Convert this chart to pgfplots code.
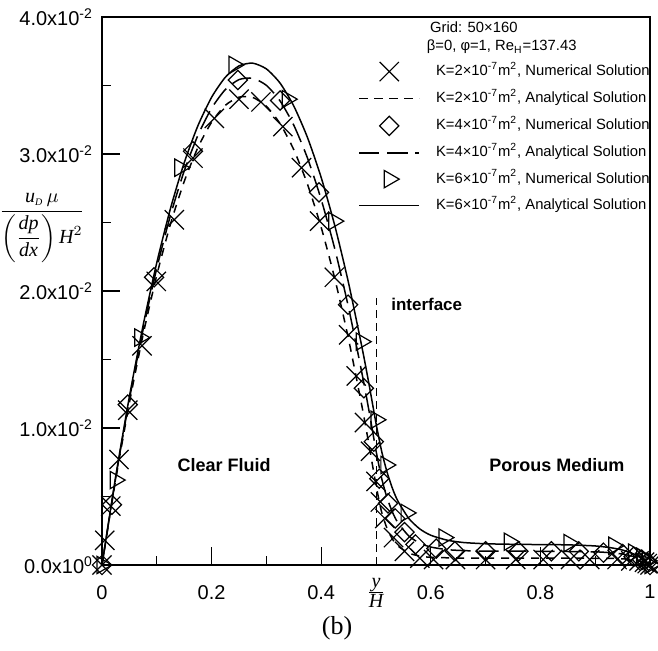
\documentclass[border=0pt]{standalone}
\usepackage{pgfplots}
\pgfplotsset{compat=1.18}
\usepackage{fontspec}
\setmainfont{Liberation Sans}
\newfontfamily\serif{Liberation Serif}
\begin{document}
\begin{tikzpicture}
\useasboundingbox (-51pt,-43pt) rectangle (278pt,282.5pt);
\begin{axis}[
 at={(0,0)}, anchor=south west,
 width=274pt, height=274pt, scale only axis,
 xmin=0, xmax=1, ymin=0, ymax=0.04,
 clip=false,
 axis line style={line width=0.6pt},
 every tick/.style={line width=0.6pt, black},
 tick align=inside,
 xtick pos=bottom, ytick pos=left,
 major tick length=9pt, minor tick length=4.5pt,
 xtick={0,0.2,0.4,0.6,0.8,1},
 xticklabels={0,0.2,0.4,0.6,0.8,1},
 minor xtick={0.1,0.3,0.7,0.9},
 ytick={0,0.01,0.02,0.03,0.04},
 yticklabels={0.0x10\textsuperscript{0},1.0x10\textsuperscript{-2},2.0x10\textsuperscript{-2},3.0x10\textsuperscript{-2},4.0x10\textsuperscript{-2}},
 minor ytick={0.005,0.015,0.025,0.035},
 scaled y ticks=false,
 ticklabel style={font=\fontsize{10}{12}\selectfont},
 xticklabel style={yshift=-6.5pt},
 yticklabel style={xshift=-1pt},
 legend image code/.code={\draw[mark repeat=2,mark phase=2,#1] plot coordinates {(0pt,0pt) (15pt,0pt) (30pt,0pt)};},
 legend style={draw=none, fill=none, at={(rel axis cs:1,1)}, anchor=north east, yshift=-22.3pt,
   font=\fontsize{7.4}{9}\selectfont, row sep=5.2pt, inner sep=0pt,
   nodes={inner sep=0pt, text height=5.5pt, text depth=1.6pt},
   /tikz/every odd column/.append style={column sep=8pt}},
 legend cell align=left,
]
% K=2 numerical
\addplot[only marks, mark=x, mark size=6.8pt, mark options={line width=0.6pt, solid}] coordinates {
(0,0) (0.005,0.0018) (0.016,0.0043) (0.031,0.0077) (0.047,0.0113) (0.073,0.0160) (0.099,0.0207) (0.132,0.0252) (0.166,0.0297) (0.205,0.0326) (0.25,0.0340) (0.29,0.0338) (0.33,0.0320) (0.364,0.0290) (0.397,0.0251) (0.424,0.0210) (0.45,0.0168) (0.464,0.0138) (0.479,0.0104) (0.49,0.0083) (0.5,0.0061) (0.508,0.0046) (0.516,0.0034) (0.532,0.0020) (0.552,0.0010) (0.58,0.0005) (0.605,0.0004) (0.645,0.0004) (0.70,0.0004) (0.755,0.0004) (0.805,0.0004) (0.855,0.0004) (0.89,0.0004) (0.94,0.0004) (0.965,0.0003) (0.98,0.0003) (0.99,0.0002) (0.995,0.0001) (1,0)};
\addlegendentry{K=2\texttimes10\textsuperscript{-7}m\textsuperscript{2}, Numerical Solution}
% K=2 analytical
\addplot[line width=0.75pt, dash pattern=on 4pt off 3.5pt, smooth, tension=0.4] coordinates {
(0,0) (0.025,0.00623) (0.05,0.01183) (0.075,0.01681) (0.1,0.02116) (0.125,0.02489) (0.15,0.02799) (0.175,0.03047) (0.2,0.03232) (0.225,0.03355) (0.25,0.03415) (0.275,0.03413) (0.3,0.03348) (0.325,0.03221) (0.35,0.03031) (0.375,0.02779) (0.4,0.02464) (0.425,0.02087) (0.45,0.01647) (0.475,0.01145) (0.4875,0.0087) (0.5,0.00583) (0.51,0.00391) (0.52,0.00268) (0.53,0.00189) (0.54,0.00139) (0.56,0.00087) (0.58,0.00065) (0.6,0.00056) (0.65,0.00051) (0.7,0.0005) (0.8,0.0005) (0.9,0.00049) (0.94,0.00047) (0.96,0.00042) (0.97,0.00037) (0.98,0.0003) (0.99,0.00018) (1,0)};
\addlegendentry{K=2\texttimes10\textsuperscript{-7}m\textsuperscript{2}, Analytical Solution}
% K=4 numerical
\addplot[only marks, mark=square, mark size=3.4pt, mark options={rotate=45, line width=0.6pt, solid}] coordinates {
(0,0) (0.018,0.0044) (0.047,0.0117) (0.095,0.0210) (0.166,0.0302) (0.248,0.0354) (0.325,0.0339) (0.396,0.0272) (0.449,0.0190) (0.478,0.0129) (0.496,0.0090) (0.506,0.0063) (0.522,0.0045) (0.535,0.0034) (0.552,0.0024) (0.572,0.0015) (0.61,0.0012) (0.644,0.0010) (0.7,0.0010) (0.76,0.0010) (0.82,0.0010) (0.87,0.0010) (0.915,0.0009) (0.95,0.0008) (0.97,0.0006) (0.985,0.0004) (0.995,0.0002) (1,0)};
\addlegendentry{K=4\texttimes10\textsuperscript{-7}m\textsuperscript{2}, Numerical Solution}
% K=4 analytical
\addplot[line width=0.75pt, dash pattern=on 10pt off 4pt, smooth, tension=0.4] coordinates {
(0,0) (0.025,0.00636) (0.05,0.01209) (0.075,0.01719) (0.1,0.02167) (0.125,0.02553) (0.15,0.02876) (0.175,0.03136) (0.2,0.03334) (0.225,0.0347) (0.25,0.03543) (0.275,0.03553) (0.3,0.03501) (0.325,0.03387) (0.35,0.0321) (0.375,0.0297) (0.4,0.02668) (0.425,0.02304) (0.45,0.01877) (0.475,0.01387) (0.4875,0.01119) (0.5,0.00835) (0.51,0.00638) (0.52,0.00492) (0.53,0.00386) (0.54,0.00308) (0.56,0.00211) (0.58,0.00159) (0.6,0.00131) (0.63,0.00112) (0.66,0.00105) (0.7,0.00101) (0.8,0.001) (0.9,0.00096) (0.94,0.00085) (0.96,0.00072) (0.97,0.00061) (0.98,0.00047) (0.99,0.00027) (1,0)};
\addlegendentry{K=4\texttimes10\textsuperscript{-7}m\textsuperscript{2}, Analytical Solution}
% K=6 numerical
\addplot[only marks, mark=triangle, mark size=5pt, mark options={rotate=-90, line width=0.6pt, solid}] coordinates {
(0,0) (0.024,0.0062) (0.069,0.0166) (0.142,0.0290) (0.241,0.0365) (0.338,0.0340) (0.423,0.0251) (0.473,0.0163) (0.5,0.0106) (0.518,0.0073) (0.555,0.0038) (0.624,0.0020) (0.743,0.0017) (0.852,0.0016) (0.934,0.0014) (0.97,0.0009) (0.985,0.0006) (0.995,0.0003) (1,0)};
\addlegendentry{K=6\texttimes10\textsuperscript{-7}m\textsuperscript{2}, Numerical Solution}
% K=6 analytical
\addplot[line width=0.75pt, smooth, tension=0.4] coordinates {
(0,0) (0.025,0.00646) (0.05,0.01229) (0.075,0.01749) (0.1,0.02207) (0.125,0.02603) (0.15,0.02936) (0.175,0.03206) (0.2,0.03414) (0.225,0.0356) (0.25,0.03643) (0.275,0.03663) (0.3,0.03621) (0.325,0.03517) (0.35,0.0335) (0.375,0.0312) (0.4,0.02828) (0.425,0.02474) (0.45,0.02057) (0.475,0.01577) (0.4875,0.01314) (0.5,0.01035) (0.51,0.00836) (0.52,0.0068) (0.53,0.00559) (0.54,0.00466) (0.56,0.00339) (0.58,0.00263) (0.6,0.00217) (0.63,0.00181) (0.66,0.00164) (0.7,0.00155) (0.75,0.00151) (0.8,0.00149) (0.85,0.00147) (0.9,0.00139) (0.93,0.00125) (0.95,0.00109) (0.97,0.00081) (0.98,0.00061) (0.99,0.00034) (1,0)};
\addlegendentry{K=6\texttimes10\textsuperscript{-7}m\textsuperscript{2}, Analytical Solution}
% interface line
\addplot[forget plot, line width=0.5pt, dash pattern=on 4pt off 2.5pt] coordinates {(0.5,0) (0.5,0.0195)};
% texts
\node[anchor=west, font=\fontsize{7.4}{9}\selectfont] at (rel axis cs:0.586,1) [yshift=-5pt] {Grid: 50\texttimes160};
\node[anchor=west, font=\fontsize{7.4}{9}\selectfont] at (rel axis cs:0.580,1) [yshift=-15pt] {β=0, φ=1, Re\textsubscript{H}=137.43};
\node[anchor=west, font=\bfseries\fontsize{8.5}{10}\selectfont] at (axis cs:0.515,0.0190) {interface};
\node[font=\bfseries\fontsize{9}{11}\selectfont] at (axis cs:0.223,0.0073) {Clear Fluid};
\node[font=\bfseries\fontsize{9}{11}\selectfont] at (axis cs:0.83,0.0073) {Porous Medium};
\node[anchor=north, font=\fontsize{10}{12}\selectfont] at (axis cs:0.5,0) [yshift=-3pt] {$\frac{\mbox{\serif\itshape y}}{\mbox{\serif\itshape H}}$};
\node[font=\serif\fontsize{13}{15}\selectfont] at (rel axis cs:0.429,0) [yshift=-31.5pt] {(b)};
\node[font=\fontsize{10}{12}\selectfont] at (rel axis cs:0,0.615) [xshift=-30pt] {$\displaystyle\frac{\mbox{\serif\itshape u}_{\mbox{\serif\itshape\tiny D}}\,\mu}{\left({\displaystyle\frac{\mbox{\serif\itshape dp}}{\mbox{\serif\itshape dx}}}\right)\mbox{\serif\itshape H}^{2}}$};
\end{axis}
\end{tikzpicture}
\end{document}
